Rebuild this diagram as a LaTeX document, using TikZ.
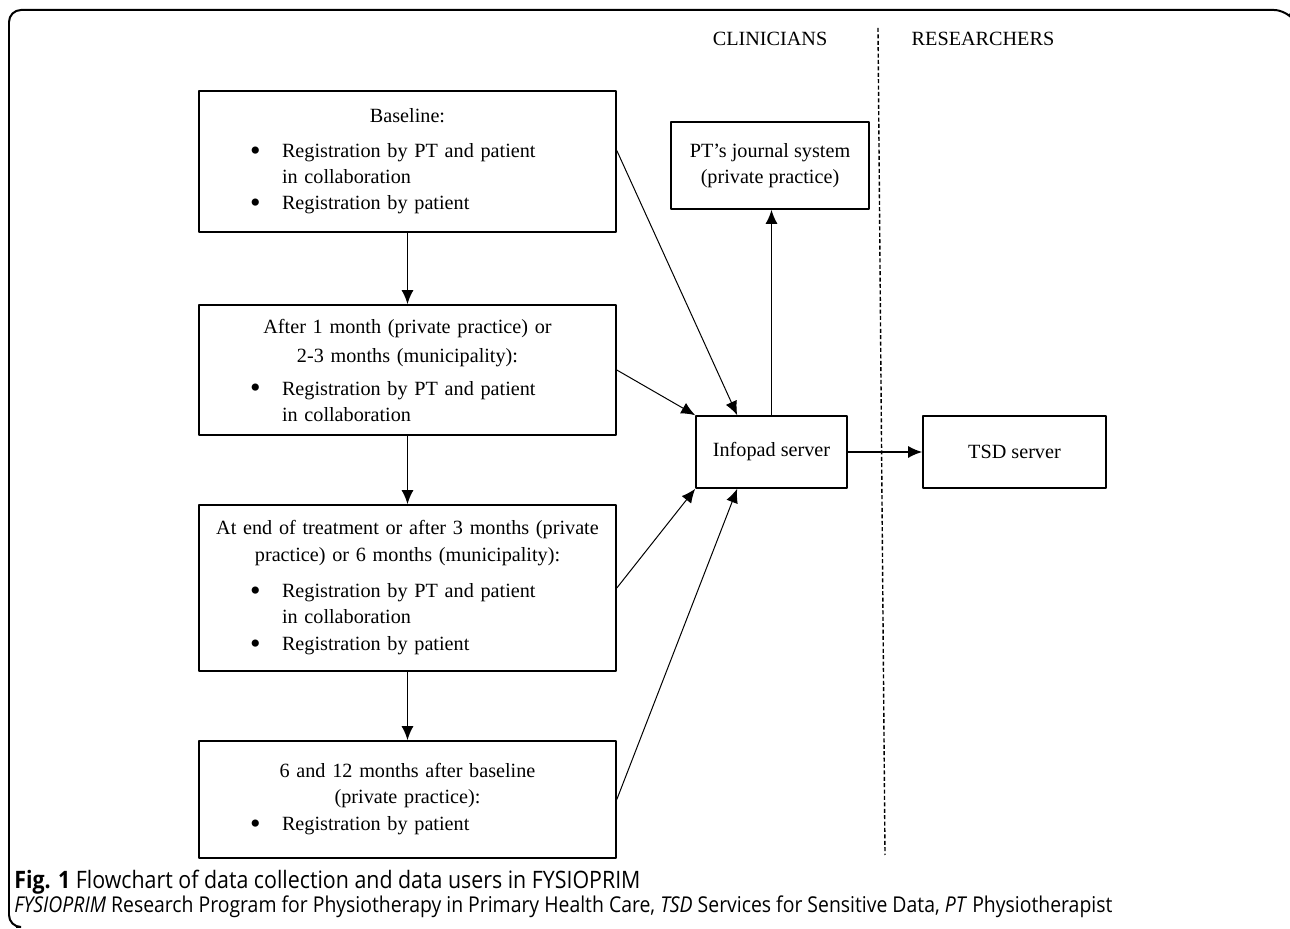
\documentclass[tikz,border=0pt]{standalone}
\usepackage{fontspec}
\setmainfont{Liberation Serif}
\newfontfamily\capfont{Open Sans}
\usetikzlibrary{arrows.meta,shapes}

\newcommand{\dotb}{\raisebox{-1.2bp}{\fontsize{15bp}{13bp}\selectfont\textbullet}}
\newcommand{\bul}[1]{\makebox[208.5bp][l]{\hspace*{25.5bp}\makebox[16bp][l]{\dotb}#1}}
\newcommand{\cnt}[1]{\makebox[208.5bp][l]{\hspace*{41.5bp}#1}}

\tikzset{
  stepbox/.style={draw,line width=0.8pt,inner sep=0pt,minimum width=208.5bp,text width=208.5bp,align=center},
  srvbox/.style={draw,line width=0.8pt,inner sep=0pt,align=center},
  flow/.style={->,line width=0.8pt},
  link/.style={->,line width=0.5pt},
  capline/.style={anchor=base west,inner sep=0pt,xscale=0.89,transform shape},
}

\begin{document}
\begin{tikzpicture}[>={Latex[length=7bp,width=6bp]},line join=bevel,font=\fontsize{10.1bp}{13bp}\selectfont]
\useasboundingbox (0bp,0bp) rectangle (645bp,464.5bp);
%%
\draw [line width=1pt,rounded corners=6bp] (644.5bp,457.5bp) -- (643bp,459.5bp) -- (4.5bp,459.5bp) -- (4.5bp,1bp) -- (8bp,1bp);
%%
\node (base) at (203.75bp,383.75bp) [stepbox,minimum height=70.5bp] {Baseline:\\[4.5bp]\bul{Registration by PT and patient}\\\cnt{in collaboration}\\\bul{Registration by patient}};
  \node (month) at (203.75bp,279.5bp) [stepbox,minimum height=65bp] {After 1 month (private practice) or\\[1.5bp]2-3 months (municipality):\\[3.5bp]\bul{Registration by PT and patient}\\\cnt{in collaboration}};
  \node (end) at (203.75bp,170.5bp) [stepbox,minimum height=83bp] {At end of treatment or after 3 months (private\\[0.5bp]practice) or 6 months (municipality):\\[5bp]\bul{Registration by PT and patient}\\\cnt{in collaboration}\\[0.5bp]\bul{Registration by patient}};
  \node (late) at (203.75bp,64.75bp) [stepbox,minimum height=58.5bp] {6 and 12 months after baseline\\(private practice):\\[0.5bp]\bul{Registration by patient}};
  \node (infopad) at (385.75bp,238.5bp) [srvbox,minimum width=75.5bp,minimum height=36bp] {Infopad server};
  \node (journal) at (385bp,381.75bp) [srvbox,minimum width=99bp,minimum height=43.5bp] {PT's journal system\\(private practice)};
  \node (tsd) at (507.25bp,238.5bp) [srvbox,minimum width=91.5bp,minimum height=36bp] {TSD server};
  \node (clin) at (385bp,445bp) {CLINICIANS};
  \node (res) at (491.5bp,445bp) {RESEARCHERS};
%
  \coordinate (dtop) at (439bp,450.5bp);
  \coordinate (dbot) at (442.5bp,37bp);
  \draw [dash pattern=on 2bp off 1.2bp,line width=0.7pt] (dtop) -- (dbot);
%
  \draw [flow] (base) -- (month);
  \draw [flow] (month) -- (end);
  \draw [flow] (end) -- (late);
  \draw [link] (base.3) -- (infopad.133);
  \draw [link] (month.east) -- (infopad.north west);
  \draw [link] (end.east) -- (infopad.south west);
  \draw [link] (late.east) -- (infopad.227);
  \draw [flow] (infopad.north) -- (infopad.north |- journal.south);
  \draw [flow] (infopad) -- (tsd);
%
  \node (cap1) at (7bp,20.5bp) [capline,font=\capfont\fontsize{12bp}{13bp}\selectfont] {\textbf{Fig. 1} Flowchart of data collection and data users in FYSIOPRIM};
  \node (cap2) at (7bp,8.5bp) [capline,font=\capfont\fontsize{10.9bp}{12bp}\selectfont] {\textit{FYSIOPRIM} Research Program for Physiotherapy in Primary Health Care, \textit{TSD} Services for Sensitive Data, \textit{PT} Physiotherapist};
%
\end{tikzpicture}
\end{document}
